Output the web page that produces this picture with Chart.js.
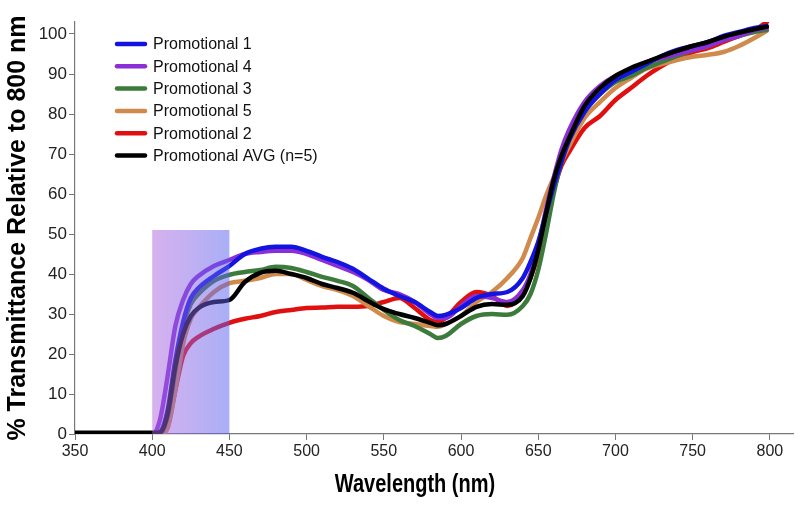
<!DOCTYPE html>
<html>
<head>
<meta charset="utf-8">
<script src="https://cdn.jsdelivr.net/npm/chart.js@4/dist/chart.umd.min.js"></script>
<style>
  html, body { margin: 0; padding: 0; background: #fff; }
  #wrap { width: 800px; height: 508px; position: relative; }
</style>
</head>
<body>
<div id="wrap"><canvas id="myChart"></canvas></div>
<script>
// wavelengths (nm) shared by every curve
const wavelength = [350, 400, 405, 410, 415, 420, 425, 430, 440, 450, 460, 470, 480, 490, 500, 510, 520, 530, 540, 550, 560, 570, 580, 585, 590, 600, 610, 620, 630, 640, 645, 650, 655, 660, 665, 670, 680, 690, 700, 710, 720, 730, 740, 750, 760, 770, 780, 790, 798];

const promo1 = [0, 0, 0.5, 6, 18.5, 28, 34, 36.5, 39.5, 42, 45, 46.3, 46.8, 46.8, 45.8, 44.3, 43, 41.3, 38.8, 36.3, 34.5, 33, 30.5, 29.5, 29.8, 31.5, 34, 35, 35.5, 39, 43, 48, 55, 62, 68, 73.5, 80.5, 85, 88.5, 90.5, 92.5, 94.5, 96, 97, 98, 99.5, 100.5, 101.5, 102];
const promo4 = [0, 0, 3.5, 14.5, 27, 33.5, 37.5, 39.5, 42, 43.5, 45, 45.5, 45.8, 45.8, 45, 43.5, 42, 40.5, 38.5, 36, 35, 33, 30, 29, 29, 32, 34.5, 34, 33, 36, 40, 47, 56, 64, 71, 76, 83, 87, 89.5, 91, 93, 94, 95, 96, 97, 98.5, 99.5, 101, 101.5];
const promo3 = [0, 0, 0, 4.5, 16, 27, 32.5, 35, 38.3, 39.8, 40.5, 41, 41.8, 41.5, 40.5, 39.3, 38.3, 37, 34, 31, 28.5, 27, 25, 24, 24.5, 27.5, 29.5, 30, 29.8, 32, 35, 41, 50, 60, 68, 73.5, 81, 85, 88, 89.5, 91.5, 93, 94.5, 96, 97, 98.5, 99.5, 100.5, 101];
const promo5 = [0, 0, 0, 1.5, 11, 22.5, 28.8, 31.5, 35.5, 37.7, 38.3, 39, 40, 40, 38.5, 37, 36, 34.5, 32, 29.5, 28, 27.5, 27, 26.8, 27.5, 29.5, 33, 35.5, 39, 44, 49, 54, 59.5, 64, 68, 72, 79, 83, 86.5, 89, 91.3, 92.5, 93.5, 94.3, 94.8, 95.5, 97, 99, 100.8];
const promo2 = [0, 0, 0, 2, 11, 19.5, 22.7, 24.3, 26.3, 27.8, 28.8, 29.5, 30.5, 31, 31.5, 31.6, 31.8, 31.8, 32, 33, 34, 31.5, 28.5, 28, 29, 33, 35.5, 34.5, 32, 35, 39, 45, 54, 61, 67, 70.5, 76.5, 79.5, 83.5, 86.5, 89.5, 92, 94, 95.5, 96.5, 98, 99.5, 101, 103];
const promoAvg = [0.3, 0.3, 0.3, 5, 17, 25, 29.5, 31.5, 33, 33.5, 38, 40.3, 40.8, 40, 39, 37.5, 36.5, 35.3, 33.2, 31.2, 30, 29, 27.8, 27.2, 27.5, 29.5, 31.8, 32.5, 32.3, 34.5, 39, 46, 55, 63.5, 69.5, 74, 82, 86.5, 89.5, 91.5, 93, 94.5, 95.8, 97, 98, 99.3, 100.3, 101.2, 101.8];

const seriesNames = ["Promotional 1", "Promotional 4", "Promotional 3", "Promotional 5", "Promotional 2", "Promotional AVG (n=5)"];
const seriesValues = [promo1, promo4, promo3, promo5, promo2, promoAvg];
const seriesColors = ["#1414e0", "#8a2fd6", "#3d7b3d", "#d08a4c", "#e01010", "#000000"];

const xTicks = [350, 400, 450, 500, 550, 600, 650, 700, 750, 800];
const yTicks = [0, 10, 20, 30, 40, 50, 60, 70, 80, 90, 100];

// highlighted band (nm range and top value)
const bandStart = 400;
const bandEnd = 450;
const bandTop = 51;

const datasets = seriesNames.map((name, i) => ({
  label: name,
  data: wavelength.map((w, j) => ({ x: w, y: seriesValues[i][j] })),
  borderColor: seriesColors[i],
  borderWidth: 4.5,
  pointRadius: 0,
  cubicInterpolationMode: "monotone",
  borderCapStyle: "round",
  borderJoinStyle: "round",
  order: i === 5 ? 0 : 1
}));

const bandPlugin = {
  id: "band",
  afterDatasetsDraw(chart) {
    const { ctx, scales } = chart;
    const x0 = scales.x.getPixelForValue(bandStart);
    const x1 = scales.x.getPixelForValue(bandEnd);
    const y0 = scales.y.getPixelForValue(0);
    const y1 = scales.y.getPixelForValue(bandTop);
    const g = ctx.createLinearGradient(x0, 0, x1, 0);
    g.addColorStop(0, "rgba(175,100,222,0.5)");
    g.addColorStop(1, "rgba(85,95,238,0.5)");
    ctx.save();
    ctx.fillStyle = g;
    ctx.fillRect(x0, y1, x1 - x0, y0 - y1);
    ctx.restore();
  }
};

const legendPlugin = {
  id: "innerLegend",
  afterDraw(chart) {
    const ctx = chart.ctx;
    ctx.save();
    ctx.font = "16px 'Liberation Sans', Arial, sans-serif";
    ctx.textBaseline = "middle";
    ctx.fillStyle = "#111";
    seriesNames.forEach((name, i) => {
      const y = 44 + i * 22.3;
      ctx.strokeStyle = seriesColors[i];
      ctx.lineWidth = 4.5;
      ctx.lineCap = "round";
      ctx.beginPath();
      ctx.moveTo(117, y);
      ctx.lineTo(145, y);
      ctx.stroke();
      ctx.fillText(name, 153, y + 1);
    });
    // x axis title, condensed bold like the original
    ctx.fillStyle = "#000";
    ctx.font = "bold 25px 'Liberation Sans', Arial, sans-serif";
    ctx.textAlign = "center";
    ctx.translate(415, 485);
    ctx.scale(0.8, 1);
    ctx.fillText("Wavelength (nm)", 0, 0);
    ctx.restore();
  }
};

new Chart(document.getElementById("myChart").getContext("2d"), {
  type: "line",
  data: { datasets: datasets },
  plugins: [bandPlugin, legendPlugin],
  options: {
    responsive: true,
    maintainAspectRatio: false,
    animation: false,
    layout: { padding: { top: 22, right: 7, bottom: 0, left: 0 } },
    plugins: { legend: { display: false }, tooltip: { enabled: false } },
    scales: {
      x: {
        type: "linear",
        min: 350,
        max: 815,
        afterBuildTicks(scale) {
          scale.ticks = xTicks.map(v => ({ value: v }));
        },
        afterFit(scale) { scale.height = 74; },
        ticks: { color: "#222", font: { size: 16, family: "'Liberation Sans', Arial" }, padding: 2, maxRotation: 0, autoSkip: false },
        grid: { display: true, drawOnChartArea: false, drawTicks: true, tickLength: 6, color: "#777" },
        border: { color: "#777", width: 1.2 }
      },
      y: {
        min: 0,
        max: 103,
        afterBuildTicks(scale) {
          scale.ticks = yTicks.map(v => ({ value: v }));
        },
        afterFit(scale) { scale.width = 75; },
        ticks: { color: "#222", font: { size: 17, family: "'Liberation Sans', Arial" }, padding: 2, autoSkip: false },
        grid: { display: true, drawOnChartArea: false, drawTicks: true, tickLength: 6, color: "#777" },
        border: { color: "#777", width: 1.2 },
        title: {
          display: true,
          text: "% Transmittance Relative to 800 nm",
          color: "#000",
          font: { size: 25, weight: "bold", family: "'Liberation Sans', Arial" },
          padding: { top: 3, bottom: 0 }
        }
      }
    }
  }
});
</script>
</body>
</html>
